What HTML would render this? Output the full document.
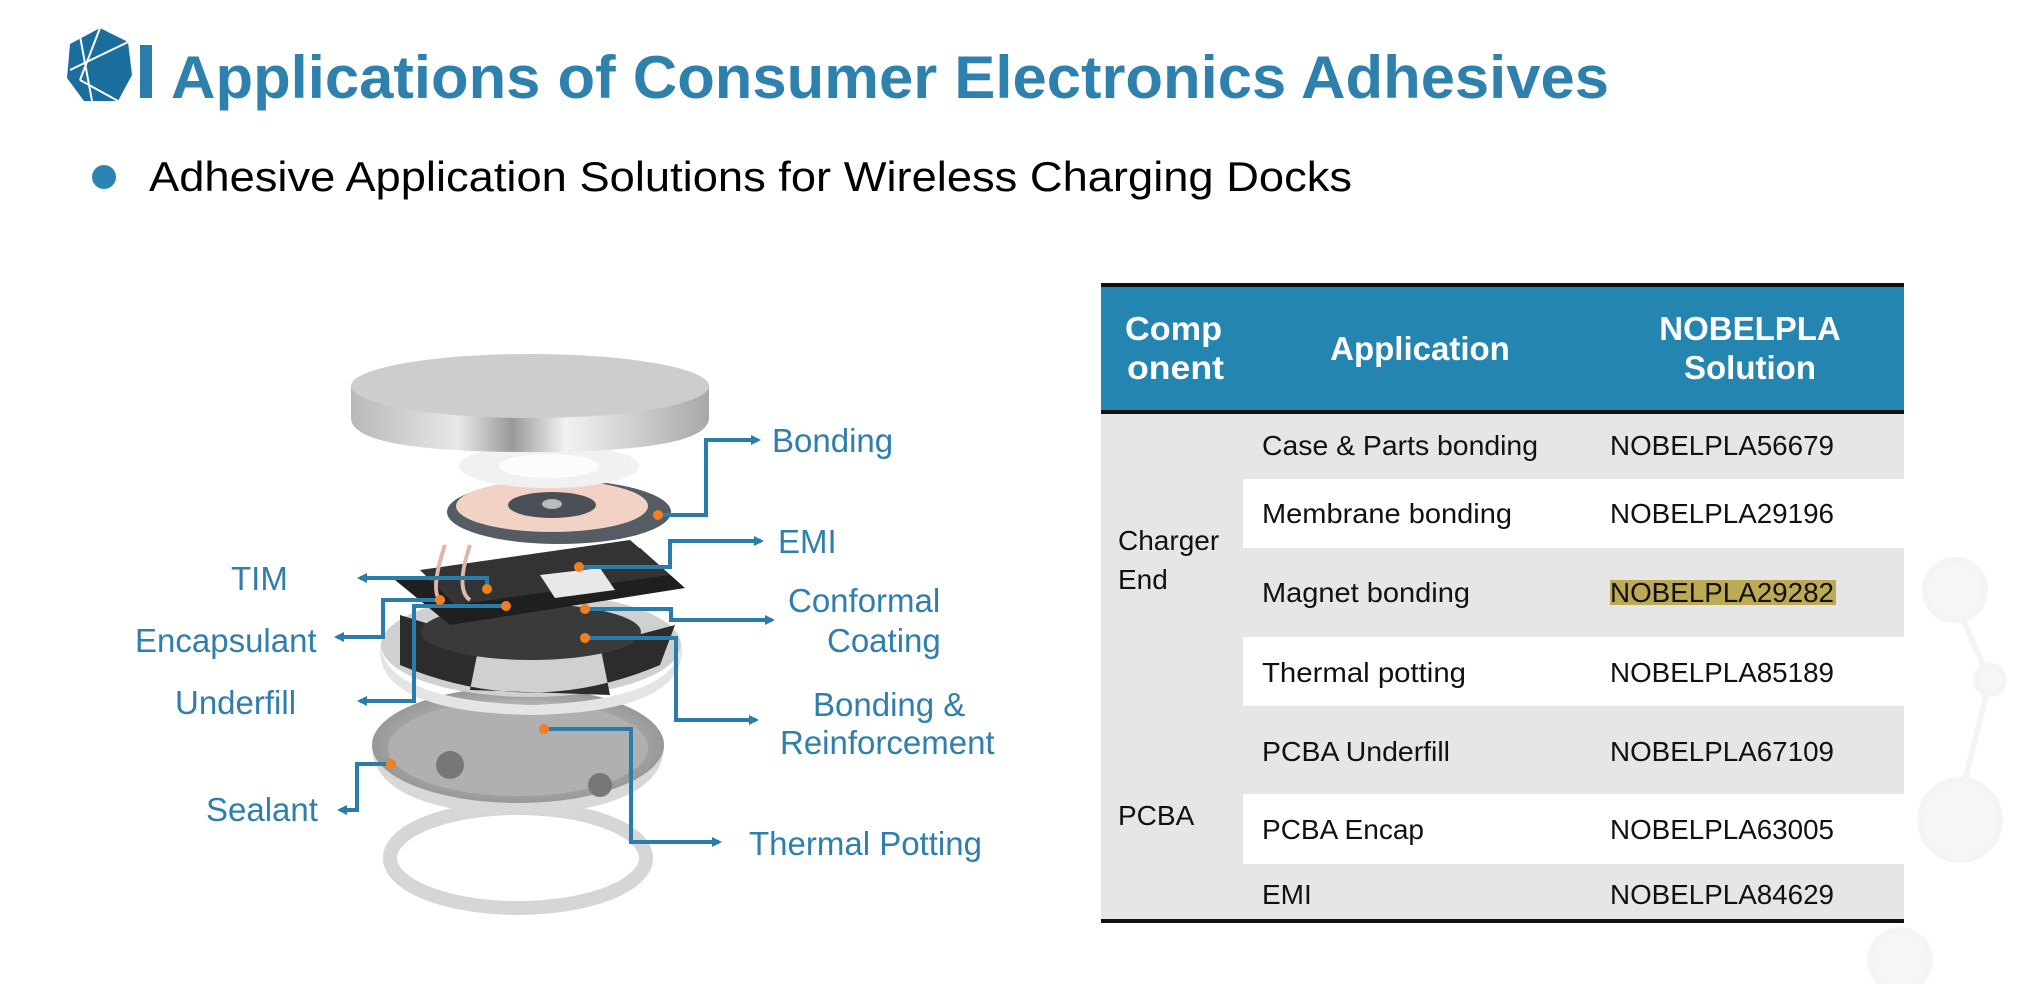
<!DOCTYPE html>
<html><head><meta charset="utf-8"><style>
html,body{margin:0;padding:0;background:#fff;}
svg{display:block;}
text{font-family:"Liberation Sans",sans-serif;}
</style></head><body>
<svg width="2020" height="984" viewBox="0 0 2020 984" xmlns="http://www.w3.org/2000/svg">
<defs>
<linearGradient id="cap" x1="0" x2="1"><stop offset="0" stop-color="#b8b8b8"/><stop offset=".3" stop-color="#e8e8e8"/><stop offset=".45" stop-color="#9a9a9a"/><stop offset=".6" stop-color="#f2f2f2"/><stop offset="1" stop-color="#a8a8a8"/></linearGradient>
<radialGradient id="hous" cx=".5" cy=".5" r=".6"><stop offset="0" stop-color="#e0e0e0"/><stop offset="1" stop-color="#8a8a8a"/></radialGradient>
<marker id="ar" markerWidth="10" markerHeight="10" refX="7" refY="5" orient="auto" markerUnits="userSpaceOnUse"><path d="M0,0 L10,5 L0,10 Z" fill="#2a7dab"/></marker>
</defs>

<g fill="#f6f6f6" stroke="#f4f4f4" stroke-width="6">
<line x1="1950" y1="590" x2="1990" y2="680"/><line x1="1990" y1="680" x2="1960" y2="800"/>
<circle cx="1955" cy="590" r="30"/><circle cx="1990" cy="680" r="14"/><circle cx="1960" cy="820" r="40"/><circle cx="1900" cy="960" r="30"/>
</g>

<polygon points="100,28 128,42 132,75 118,101 84,101 67,78 70,44" fill="#1a6e9e"/>
<g stroke="#fff" stroke-width="2" fill="none"><line x1="80" y1="36" x2="92" y2="101"/><line x1="70" y1="70" x2="128" y2="42"/><line x1="80" y1="80" x2="118" y2="101"/><line x1="100" y1="28" x2="80" y2="80"/></g>
<rect x="140" y="45" width="12" height="53" fill="#2a7dab"/>
<text x="171" y="98" font-size="60" font-weight="bold" fill="#2e80ad" textLength="1438" lengthAdjust="spacingAndGlyphs">Applications of Consumer Electronics Adhesives</text>

<circle cx="104" cy="177" r="12" fill="#2a85b4"/>
<text x="149" y="191" font-size="42" fill="#000" textLength="1203" lengthAdjust="spacingAndGlyphs">Adhesive Application Solutions for Wireless Charging Docks</text>

<rect x="1101" y="284" width="803" height="128" fill="#2385b0"/>
<rect x="1101" y="412" width="803" height="509" fill="#e6e6e6"/>
<rect x="1243" y="479" width="661" height="69" fill="#fff"/>
<rect x="1243" y="637" width="661" height="69" fill="#fff"/>
<rect x="1243" y="794" width="661" height="70" fill="#fff"/>
<line x1="1101" y1="285" x2="1904" y2="285" stroke="#111" stroke-width="4"/>
<line x1="1101" y1="412" x2="1904" y2="412" stroke="#111" stroke-width="4"/>
<line x1="1101" y1="921" x2="1904" y2="921" stroke="#111" stroke-width="4"/>
<g font-size="33" font-weight="bold" fill="#fff">
<text x="1125" y="340" textLength="97" lengthAdjust="spacingAndGlyphs">Comp</text><text x="1127" y="379" textLength="97" lengthAdjust="spacingAndGlyphs">onent</text>
<text x="1420" y="360" text-anchor="middle">Application</text>
<text x="1750" y="340" text-anchor="middle">NOBELPLA</text><text x="1750" y="379" text-anchor="middle">Solution</text>
</g>
<rect x="1610" y="580" width="226" height="25" fill="#bcaa55"/>
<g font-size="28" fill="#111" lengthAdjust="spacingAndGlyphs">
<text x="1118" y="550">Charger</text><text x="1118" y="589">End</text>
<text x="1118" y="825">PCBA</text>
<text x="1262" y="455" textLength="276" lengthAdjust="spacingAndGlyphs">Case &amp; Parts bonding</text><text x="1610" y="455" textLength="224" lengthAdjust="spacingAndGlyphs">NOBELPLA56679</text>
<text x="1262" y="523" textLength="250" lengthAdjust="spacingAndGlyphs">Membrane bonding</text><text x="1610" y="523" textLength="224" lengthAdjust="spacingAndGlyphs">NOBELPLA29196</text>
<text x="1262" y="602" textLength="208" lengthAdjust="spacingAndGlyphs">Magnet bonding</text><text x="1610" y="602" textLength="224" lengthAdjust="spacingAndGlyphs">NOBELPLA29282</text>
<text x="1262" y="682" textLength="204" lengthAdjust="spacingAndGlyphs">Thermal potting</text><text x="1610" y="682" textLength="224" lengthAdjust="spacingAndGlyphs">NOBELPLA85189</text>
<text x="1262" y="761" textLength="188" lengthAdjust="spacingAndGlyphs">PCBA Underfill</text><text x="1610" y="761" textLength="224" lengthAdjust="spacingAndGlyphs">NOBELPLA67109</text>
<text x="1262" y="839" textLength="162" lengthAdjust="spacingAndGlyphs">PCBA Encap</text><text x="1610" y="839" textLength="224" lengthAdjust="spacingAndGlyphs">NOBELPLA63005</text>
<text x="1262" y="904">EMI</text><text x="1610" y="904" textLength="224" lengthAdjust="spacingAndGlyphs">NOBELPLA84629</text>
</g>

<ellipse cx="518" cy="858" rx="128" ry="50" fill="none" stroke="#d6d6d6" stroke-width="14"/>
<path d="M372,745 Q372,810 518,815 Q664,810 664,745 Z" fill="#d8d8d8"/>
<ellipse cx="518" cy="745" rx="146" ry="58" fill="url(#hous)"/>
<ellipse cx="518" cy="748" rx="130" ry="48" fill="#b0b0b0"/>
<circle cx="450" cy="765" r="14" fill="#777"/><circle cx="600" cy="785" r="12" fill="#777"/>
<path d="M380,640 Q380,700 531,705 Q682,700 682,640 L682,650 Q682,712 531,715 Q380,712 380,650Z" fill="#e4e4e4"/>
<ellipse cx="531" cy="645" rx="150" ry="52" fill="#d0d0d0"/>
<path d="M400,615 L480,640 L470,690 L610,695 L600,645 L675,625 L660,665 Q531,720 400,665Z" fill="#2c2c2c"/>
<ellipse cx="531" cy="632" rx="110" ry="28" fill="#3a3a3a"/>
<polygon points="395,580 640,548 685,588 450,625" fill="#1f1f1f"/>
<polygon points="420,570 630,540 670,575 455,605" fill="#333"/>
<polygon points="540,575 600,568 615,590 555,598" fill="#e8e8e8"/>
<path d="M445,545 Q430,590 440,600 M470,545 Q455,590 470,600" stroke="#e0b8a8" stroke-width="4" fill="none"/>
<ellipse cx="559" cy="512" rx="112" ry="32" fill="#555c63"/>
<ellipse cx="552" cy="506" rx="96" ry="26" fill="#f1d2c4"/>
<ellipse cx="552" cy="505" rx="44" ry="13" fill="#4a5055"/>
<ellipse cx="552" cy="504" rx="10" ry="5" fill="#bbb"/>
<ellipse cx="549" cy="466" rx="90" ry="22" fill="#f1f1f1"/>
<ellipse cx="549" cy="466" rx="50" ry="12" fill="#fcfcfc"/>
<path d="M351,386 L351,418 Q351,452 530,452 Q709,452 709,418 L709,386 Z" fill="url(#cap)"/>
<ellipse cx="530" cy="386" rx="179" ry="32" fill="#cdcdcd"/>

<g stroke="#2a7dab" stroke-width="4" fill="none" marker-end="url(#ar)">
<polyline points="658,515 706,515 706,440 758,440"/>
<polyline points="579,567 670,567 670,541 761,541"/>
<polyline points="487,589 487,578 360,578"/>
<polyline points="440,600 383,600 383,637 337,637"/>
<polyline points="506,606 414,606 414,701 360,701"/>
<polyline points="585,609 671,609 671,620 772,620"/>
<polyline points="585,638 676,638 676,720 756,720"/>
<polyline points="544,729 631,729 631,842 719,842"/>
<polyline points="391,764 357,764 357,810 340,810"/>
</g>
<g fill="#f07f20">
<circle cx="658" cy="515" r="5"/><circle cx="579" cy="567" r="5"/><circle cx="487" cy="589" r="5"/><circle cx="440" cy="600" r="5"/><circle cx="506" cy="606" r="5"/><circle cx="585" cy="609" r="5"/><circle cx="585" cy="638" r="5"/><circle cx="544" cy="729" r="5"/><circle cx="391" cy="764" r="5"/>
</g>
<g font-size="33" fill="#2e7fab">
<text x="772" y="452">Bonding</text>
<text x="778" y="553">EMI</text>
<text x="231" y="590">TIM</text>
<text x="788" y="612">Conformal</text><text x="827" y="652">Coating</text>
<text x="135" y="652">Encapsulant</text>
<text x="175" y="714">Underfill</text>
<text x="813" y="716">Bonding &amp;</text><text x="780" y="754">Reinforcement</text>
<text x="206" y="821">Sealant</text>
<text x="749" y="855">Thermal Potting</text>
</g>
</svg>
</body></html>
